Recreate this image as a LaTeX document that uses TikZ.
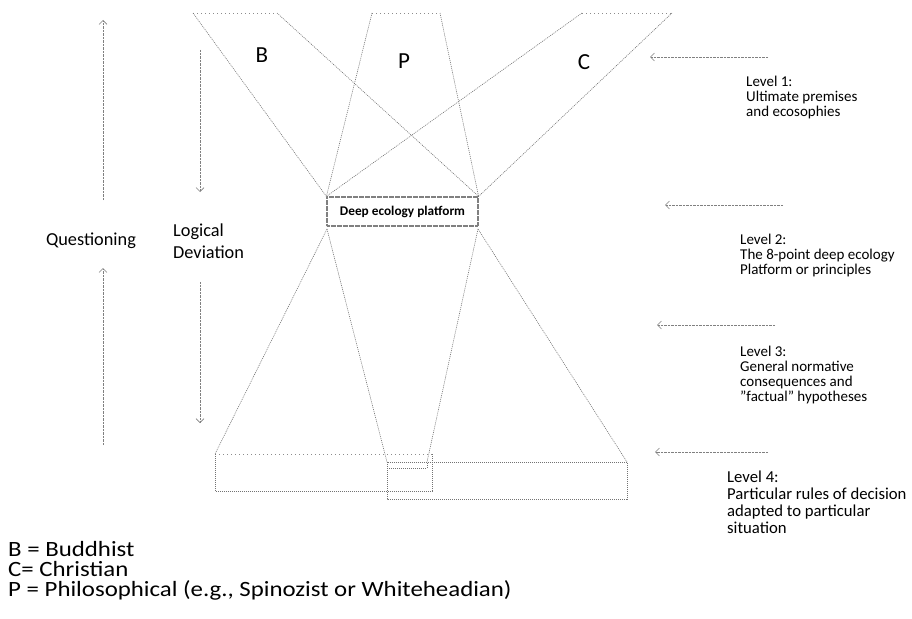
\documentclass[tikz,border=0pt]{standalone}
\usepackage{fontspec}
\setmainfont{Carlito}
\newfontfamily\widefont{Carlito}[FakeStretch=1.14]
\usetikzlibrary{arrows.meta}
\begin{document}
\begin{tikzpicture}[x=1pt,y=-1pt,
  outline/.style={draw=black!55, line width=0.6pt, dash pattern=on 1pt off 1pt},
  rim/.style={draw=black!45, line width=0.6pt, dash pattern=on 1pt off 3pt},
  flow/.style={draw=black!50, line width=0.6pt, dash pattern=on 0.8pt off 0.6pt,
    -{Straight Barb[length=4pt,width=8pt]}},
  big/.style={font=\fontsize{23}{23}\selectfont, inner sep=0pt},
  side/.style={font=\fontsize{18.3}{22}\selectfont, inner sep=0pt, align=left},
  note/.style={font=\fontsize{15}{14.8}\selectfont, align=left, anchor=north west, inner sep=0pt},
  bignote/.style={font=\fontsize{16.7}{17}\selectfont, align=left, anchor=north west, inner sep=0pt},
]
\path[use as bounding box] (0,0) rectangle (912,618);

% the platform in the middle
\node[draw=black!50, line width=1.2pt, dash pattern=on 0.7pt off 0.5pt,
      minimum width=151pt, minimum height=29pt, inner sep=0pt,
      font=\bfseries\fontsize{13.3}{14}\selectfont] (plat) at (402.5,211.5) {Deep ecology platform};

% upper corners of the three fans
\coordinate (b1) at (193,13);  \coordinate (b2) at (277,13);
\coordinate (p1) at (372,13);  \coordinate (p2) at (440,13);
\coordinate (c1) at (582,13);  \coordinate (c2) at (672,13);

% lower apexes just under the platform
\coordinate (lo1) at (327,229); \coordinate (lo2) at (478,229);

% bottom ends of the lower fans
\coordinate (q1) at (215,454); \coordinate (q2) at (387,462);
\coordinate (q3) at (427,462); \coordinate (q4) at (627,462);

% Buddhist fan (top)
\draw[rim] (b1) -- (b2);
\draw[outline] (b1) -- (plat.north west);
\draw[outline] (b2) -- (plat.north east);
% Philosophical fan (top)
\draw[rim] (p1) -- (p2);
\draw[outline] (p1) -- (plat.north west);
\draw[outline] (p2) -- (plat.north east);
% Christian fan (top)
\draw[rim] (c1) -- (c2);
\draw[outline] (c1) -- (plat.north west);
\draw[outline] (c2) -- (plat.north east);

% lower fans
\draw[outline] (lo1) -- (q1);
\draw[outline] (lo1) -- (q2);
\draw[outline] (lo2) -- (q3);
\draw[outline] (lo2) -- (q4);

% level-4 boxes
\draw[rim] (q1) -- (432,454);
\draw[outline] (432,454) -- (432,491) -- (215,491) -- (q1);
\draw[outline] (q2) rectangle (627,499);
\draw[outline] (q2) rectangle (427,468);

% fan labels
\node[big] (lb) at (262,55) {B};
\node[big] (lp) at (404,61) {P};
\node[big] (lc) at (584,62) {C};

% questioning arrows
\coordinate (qa1) at (103,200); \coordinate (qa2) at (103,20);
\coordinate (qb1) at (103,445); \coordinate (qb2) at (103,268);
\draw[flow] (qa1) -- (qa2);
\draw[flow] (qb1) -- (qb2);
\node[side, anchor=base] (quest) at (91,245) {Questioning};

% logical deviation arrows
\coordinate (da1) at (200,50);  \coordinate (da2) at (200,192);
\coordinate (db1) at (200,282); \coordinate (db2) at (200,423);
\draw[flow] (da1) -- (da2);
\draw[flow] (db1) -- (db2);
\node[side, anchor=north west] (logic) at (173,224) {Logical\\Deviation};

% level arrows and captions
\coordinate (l1a) at (768,57);  \coordinate (l1b) at (650,57);
\coordinate (l2a) at (783,205); \coordinate (l2b) at (665,205);
\coordinate (l3a) at (775,325); \coordinate (l3b) at (657,325);
\coordinate (l4a) at (768,452); \coordinate (l4b) at (655,452);
\draw[flow] (l1a) -- (l1b);
\draw[flow] (l2a) -- (l2b);
\draw[flow] (l3a) -- (l3b);
\draw[flow] (l4a) -- (l4b);

\node[note] (lev1) at (746,76) {Level 1:\\Ultimate premises\\and ecosophies};
\node[note] (lev2) at (740,234) {Level 2:\\The 8-point deep ecology\\Platform or principles};
\node[note] (lev3) at (740,346) {Level 3:\\General normative\\consequences and\\”factual” hypotheses};
\node[bignote] (lev4) at (727,471) {Level 4:\\Particular rules of decision\\adapted to particular\\situation};

% key
\node[font=\widefont\fontsize{21.8}{20}\selectfont, align=left, anchor=north west, inner sep=0pt] (key) at (8,541)
  {B = Buddhist\\C= Christian\\P = Philosophical (e.g., Spinozist or Whiteheadian)};
\end{tikzpicture}
\end{document}
